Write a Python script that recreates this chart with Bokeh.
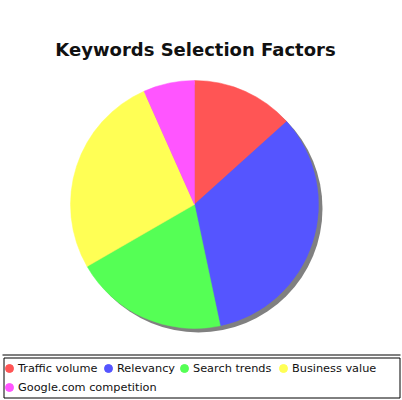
import numpy as np
from bokeh.plotting import figure
from bokeh.models import Range1d, ColumnDataSource
from bokeh.core.properties import value
from bokeh.embed import file_html
from bokeh.resources import INLINE

title = "Keywords Selection Factors"
labels = ["Traffic volume", "Relevancy", "Search trends", "Business value", "Google.com competition"]
values = [2, 5, 3, 4, 1]
colors = ["#FF5555", "#5555FF", "#55FF55", "#FFFF55", "#FF55FF"]

# layout (pixel positions)
W, H = 402, 400
cx, cy, r = 194, 400 - 204, 124
legend_x = [9, 108, 184, 283, 9]
legend_row = [0, 0, 0, 0, 1]
row_y = [400 - 368, 400 - 387]

p = figure(width=W, height=H, output_backend="svg", toolbar_location=None,
           x_range=Range1d(0, W), y_range=Range1d(0, H), min_border=0)
p.axis.visible = False
p.grid.visible = False
p.outline_line_color = None
p.background_fill_color = "white"
p.border_fill_color = "white"

vals = np.array(values, dtype=float)
frac = vals / vals.sum()
cum = np.concatenate([[0], np.cumsum(frac)])
start = np.pi / 2 - 2 * np.pi * cum[:-1]
end = np.pi / 2 - 2 * np.pi * cum[1:]

src = ColumnDataSource(dict(start=start, end=end, color=colors, label=labels,
                            lx=legend_x, ly=[row_y[i] for i in legend_row]))

# shadow
p.circle(x=cx + 4, y=cy - 4, radius=r, fill_color="#808080", line_color=None)
p.wedge(x=cx, y=cy, radius=r, start_angle="start", end_angle="end", direction="clock",
        fill_color="color", line_color="color", line_width=0.5, source=src)

# title
p.text(x=[195], y=[400 - 49], text=[title], text_font=value("DejaVu Sans"),
       text_font_style="bold", text_font_size="18px", text_align="center",
       text_baseline="middle", text_color="#111111")

# legend frame
p.line(x=[2, 400], y=[400 - 354.5] * 2, line_color="black", line_width=1)
p.quad(left=3.5, right=399.5, bottom=400 - 397.5, top=400 - 357.5, fill_color=None,
       line_color="black", line_width=1)

p.scatter(x="lx", y="ly", size=8, marker="circle", fill_color="color", line_color="color",
          source=src)
src2 = ColumnDataSource(dict(x=[x + 8.5 for x in legend_x], y=[row_y[i] for i in legend_row], t=labels))
p.text(x="x", y="y", text="t", source=src2, text_font=value("DejaVu Sans"),
       text_font_size="11.3px", text_baseline="middle", text_color="#111111")

open("out.html", "w").write(file_html(p, INLINE))
